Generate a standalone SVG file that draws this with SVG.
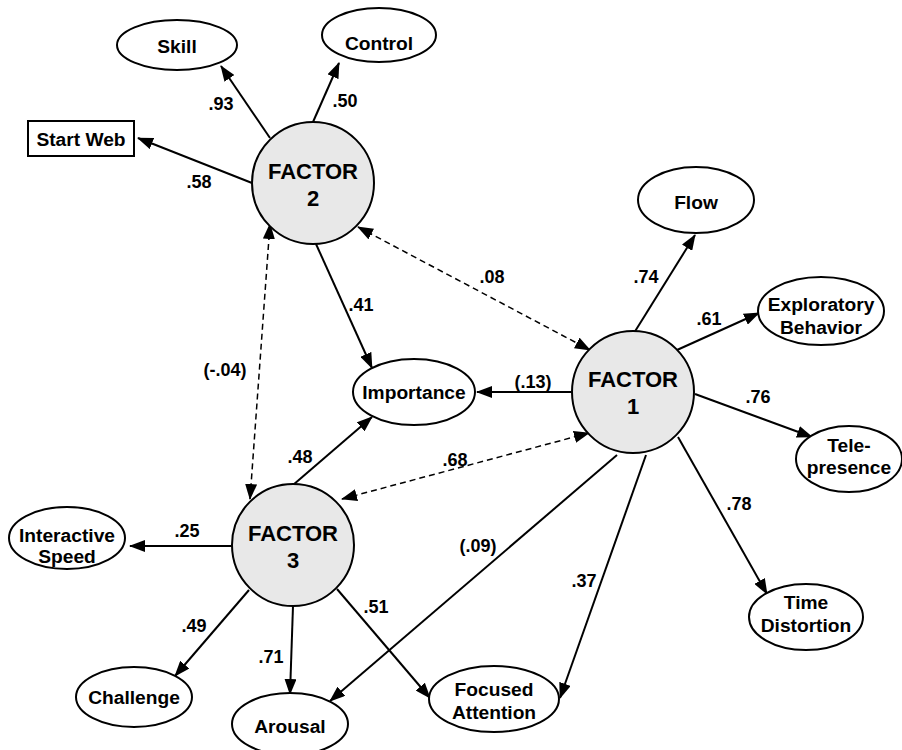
<svg xmlns="http://www.w3.org/2000/svg" width="902" height="750" viewBox="0 0 902 750">
<defs>
<marker id="ah" markerUnits="userSpaceOnUse" markerWidth="16" markerHeight="12" refX="15" refY="6" orient="auto-start-reverse">
<path d="M0,0 L16,6 L0,12 z" fill="#000"/>
</marker>
<style>
text{font-family:"Liberation Sans",Arial,sans-serif;font-weight:bold;fill:#000;text-anchor:middle}
.lbl{font-size:19.2px}
.num{font-size:18px}
.fac{font-size:22px}
.node{fill:#fff;stroke:#000;stroke-width:2}
.factor{fill:#e8e8e8;stroke:#000;stroke-width:2}
.c{stroke:#000;stroke-width:2;fill:none;marker-end:url(#ah)}
.d{stroke:#000;stroke-width:1.5;fill:none;stroke-dasharray:6,4;marker-end:url(#ah);marker-start:url(#ah)}
</style>
</defs>
<rect width="902" height="750" fill="#fff"/>
<g id="connectors">
<line class="c" x1="270" y1="138" x2="221" y2="66"/>
<line class="c" x1="313" y1="122" x2="339" y2="63"/>
<line class="c" x1="252" y1="183" x2="138" y2="138"/>
<line class="d" x1="270" y1="224" x2="250" y2="499"/>
<line class="d" x1="358" y1="227" x2="590" y2="350"/>
<line class="c" x1="316" y1="244" x2="372" y2="368"/>
<line class="c" x1="572" y1="392" x2="477" y2="392"/>
<line class="c" x1="293" y1="485" x2="372" y2="417"/>
<line class="d" x1="342" y1="499" x2="589" y2="433"/>
<line class="c" x1="634" y1="333" x2="695" y2="235"/>
<line class="c" x1="677" y1="350" x2="759" y2="313"/>
<line class="c" x1="695" y1="394" x2="812" y2="437"/>
<line class="c" x1="678" y1="437" x2="767" y2="594"/>
<line class="c" x1="646" y1="455" x2="560" y2="698"/>
<line class="c" x1="617" y1="455" x2="330" y2="701"/>
<line class="c" x1="337" y1="589" x2="430" y2="698"/>
<line class="c" x1="232" y1="546" x2="130" y2="546"/>
<line class="c" x1="249" y1="590" x2="175" y2="676"/>
<line class="c" x1="293" y1="606" x2="290" y2="694"/>
<text class="num" x="221" y="110">.93</text>
<text class="num" x="345" y="107">.50</text>
<text class="num" x="199" y="188">.58</text>
<text class="num" x="492" y="283">.08</text>
<text class="num" x="646" y="283">.74</text>
<text class="num" x="709" y="325">.61</text>
<text class="num" x="533" y="388">(.13)</text>
<text class="num" x="758" y="403">.76</text>
<text class="num" x="361" y="311">.41</text>
<text class="num" x="225" y="376">(-.04)</text>
<text class="num" x="300" y="463">.48</text>
<text class="num" x="455" y="466">.68</text>
<text class="num" x="478" y="552">(.09)</text>
<text class="num" x="584" y="587">.37</text>
<text class="num" x="739" y="510">.78</text>
<text class="num" x="187" y="537">.25</text>
<text class="num" x="194" y="632">.49</text>
<text class="num" x="271" y="663">.71</text>
<text class="num" x="376" y="613">.51</text>
</g>
<g id="factor2"><circle class="factor" cx="313" cy="183" r="61"/><text class="fac" x="313" y="179">FACTOR</text><text class="fac" x="313" y="206">2</text></g>
<g id="factor1"><circle class="factor" cx="633" cy="392" r="61"/><text class="fac" x="633" y="387">FACTOR</text><text class="fac" x="633" y="414">1</text></g>
<g id="factor3"><circle class="factor" cx="293" cy="545" r="61"/><text class="fac" x="293" y="541">FACTOR</text><text class="fac" x="293" y="568">3</text></g>
<g id="skill"><ellipse class="node" cx="177" cy="45" rx="60" ry="25"/><text class="lbl" x="177" y="53">Skill</text></g>
<g id="control"><ellipse class="node" cx="379" cy="35" rx="57" ry="27"/><text class="lbl" x="379" y="50">Control</text></g>
<g id="startweb"><rect class="node" x="28" y="121" width="106" height="35"/><text class="lbl" x="81" y="146">Start Web</text></g>
<g id="flow"><ellipse class="node" cx="696" cy="200" rx="58" ry="33"/><text class="lbl" x="696" y="209">Flow</text></g>
<g id="exploratory"><ellipse class="node" cx="821" cy="311" rx="63" ry="34"/><text class="lbl" x="821" y="311">Exploratory</text><text class="lbl" x="821" y="334">Behavior</text></g>
<g id="importance"><ellipse class="node" cx="414" cy="392" rx="61" ry="33"/><text class="lbl" x="414" y="399">Importance</text></g>
<g id="telepresence"><ellipse class="node" cx="849" cy="459" rx="53" ry="33"/><text class="lbl" x="849" y="452">Tele-</text><text class="lbl" x="849" y="474">presence</text></g>
<g id="timedistortion"><ellipse class="node" cx="806" cy="617" rx="57" ry="33"/><text class="lbl" x="806" y="609">Time</text><text class="lbl" x="806" y="632">Distortion</text></g>
<g id="focused"><ellipse class="node" cx="494" cy="699" rx="65" ry="33"/><text class="lbl" x="494" y="696">Focused</text><text class="lbl" x="494" y="719">Attention</text></g>
<g id="interactive"><ellipse class="node" cx="67" cy="538" rx="58" ry="31"/><text class="lbl" x="67" y="542">Interactive</text><text class="lbl" x="67" y="563">Speed</text></g>
<g id="challenge"><ellipse class="node" cx="134" cy="697" rx="58" ry="30"/><text class="lbl" x="134" y="704">Challenge</text></g>
<g id="arousal"><ellipse class="node" cx="290" cy="724" rx="58" ry="31"/><text class="lbl" x="290" y="733">Arousal</text></g>
</svg>
